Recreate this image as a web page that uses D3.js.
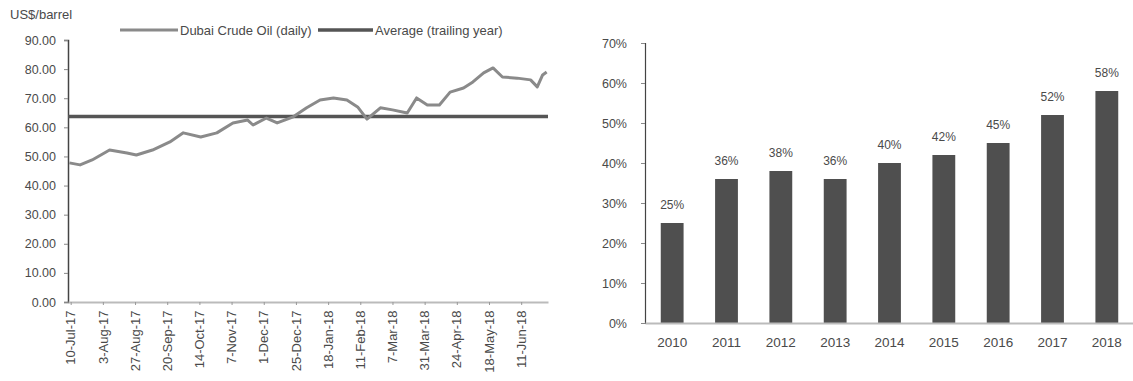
<!DOCTYPE html>
<html><head><meta charset="utf-8">
<script src="https://cdn.jsdelivr.net/npm/d3@7"></script>
<style>
html,body{margin:0;padding:0;background:#fff;}
svg{display:block;font-family:"Liberation Sans",Arial,sans-serif;}
</style></head><body>
<svg id="c" width="1133" height="381"></svg>
<script>
// ---- Left chart data ----
const priceDates = ["2017-07-09","2017-07-17","2017-07-26","2017-08-08","2017-08-21","2017-08-28","2017-09-09","2017-09-22","2017-10-02","2017-10-15","2017-10-27","2017-11-08","2017-11-19","2017-11-23","2017-12-03","2017-12-11","2017-12-23","2018-01-02","2018-01-12","2018-01-22","2018-02-01","2018-02-09","2018-02-16","2018-02-26","2018-03-07","2018-03-18","2018-03-25","2018-04-02","2018-04-11","2018-04-19","2018-04-29","2018-05-06","2018-05-14","2018-05-21","2018-05-28","2018-06-08","2018-06-18","2018-06-23","2018-06-27","2018-06-30"];
const priceValues = [47.8,47.1,48.8,52.2,51.2,50.5,52.2,55.0,58.1,56.7,58.1,61.5,62.5,60.8,63.2,61.5,63.6,66.7,69.4,70.1,69.4,67.0,62.8,66.7,66.0,64.9,70.1,67.7,67.7,72.1,73.5,75.6,78.7,80.4,77.3,76.9,76.3,73.9,78.0,79.0];
const averageValue = 63.7;
const xTickDates = ["2017-07-10","2017-08-03","2017-08-27","2017-09-20","2017-10-14","2017-11-07","2017-12-01","2017-12-25","2018-01-18","2018-02-11","2018-03-07","2018-03-31","2018-04-24","2018-05-18","2018-06-11"];
const yTicksLeft = [0,10,20,30,40,50,60,70,80,90];
const leftUnit = "US$/barrel";
const legendNames = ["Dubai Crude Oil (daily)","Average (trailing year)"];

// ---- Right chart data ----
const years = ["2010","2011","2012","2013","2014","2015","2016","2017","2018"];
const shares = [25,36,38,36,40,42,45,52,58];
const yTicksRight = [0,10,20,30,40,50,60,70];

const svg = d3.select("#c");
const parse = d3.timeParse("%Y-%m-%d");
const fmtDate = d3.timeFormat("%-d-%b-%y");
const TXT = "#4a4a4a";

// ===== Left chart =====
const L = {x0:68, x1:548, y0:302, y1:40};
const x = d3.scaleTime().domain([parse("2017-07-08"), parse("2018-07-01")]).range([L.x0, L.x1]);
const y = d3.scaleLinear().domain([0,90]).range([L.y0, L.y1]);

const gy = svg.append("g").attr("transform",`translate(${L.x0},0)`)
  .call(d3.axisLeft(y).tickValues(yTicksLeft).tickFormat(d3.format(".2f")).tickSize(4).tickPadding(8));
gy.select(".domain").attr("stroke","#444").attr("stroke-width",1.5);
gy.selectAll(".tick line").attr("stroke","#888");
gy.selectAll("text").attr("fill",TXT).style("font-size","12.5px");

const gx = svg.append("g").attr("transform",`translate(0,${L.y0})`)
  .call(d3.axisBottom(x).tickValues(xTickDates.map(parse)).tickFormat(fmtDate).tickSize(3).tickSizeOuter(0));
gx.select(".domain").attr("stroke","#bbb").attr("stroke-width",2);
gx.selectAll(".tick line").attr("stroke","#999");
gx.selectAll("text").attr("fill",TXT).style("font-size","13px")
  .attr("transform","rotate(-90)").attr("text-anchor","end").attr("dx","-0.5em").attr("dy","0.32em").attr("y",0).attr("x",-2);

svg.append("text").attr("x",10).attr("y",19).attr("fill",TXT).style("font-size","13px").text(leftUnit);

svg.append("line").attr("x1",L.x0).attr("x2",L.x1).attr("y1",y(averageValue)).attr("y2",y(averageValue))
  .attr("stroke","#555").attr("stroke-width",3.5);

const pts = priceDates.map((d,i)=>({d:parse(d), v:priceValues[i]}));
svg.append("path").datum(pts).attr("fill","none").attr("stroke","#8a8a8a").attr("stroke-width",3)
  .attr("stroke-linejoin","round")
  .attr("d", d3.line().x(p=>x(p.d)).y(p=>y(p.v)));

const lg = svg.append("g").style("font-size","13px");
lg.append("line").attr("x1",120).attr("x2",178).attr("y1",30).attr("y2",30).attr("stroke","#8a8a8a").attr("stroke-width",3);
lg.append("text").attr("x",180).attr("y",34.5).attr("fill",TXT).text(legendNames[0]);
lg.append("line").attr("x1",318).attr("x2",373).attr("y1",30).attr("y2",30).attr("stroke","#555").attr("stroke-width",3.5);
lg.append("text").attr("x",375).attr("y",34.5).attr("fill",TXT).text(legendNames[1]);

// ===== Right chart =====
const R = {x0:645, x1:1134, y0:323, y1:43};
const xb = d3.scaleBand().domain(years).range([R.x0, R.x1]).paddingInner(0.58).paddingOuter(0.29);
const yb = d3.scaleLinear().domain([0,70]).range([R.y0, R.y1]);

const gyr = svg.append("g").attr("transform",`translate(${R.x0},0)`)
  .call(d3.axisLeft(yb).tickValues(yTicksRight).tickFormat(d=>d+"%").tickSize(4).tickPadding(14));
gyr.select(".domain").attr("stroke","#444").attr("stroke-width",1.2);
gyr.selectAll(".tick line").attr("stroke","#888");
gyr.selectAll("text").attr("fill",TXT).style("font-size","12.5px");

svg.selectAll("rect.bar").data(years).join("rect").attr("class","bar")
  .attr("x",d=>xb(d)).attr("width",xb.bandwidth())
  .attr("y",(d,i)=>yb(shares[i])).attr("height",(d,i)=>yb(0)-yb(shares[i]))
  .attr("fill","#4f4f4f");

svg.selectAll("text.val").data(years).join("text").attr("class","val")
  .attr("x",d=>xb(d)+xb.bandwidth()/2).attr("y",(d,i)=>yb(shares[i])-14)
  .attr("text-anchor","middle").attr("fill",TXT).style("font-size","12px")
  .text((d,i)=>shares[i]+"%");

const gxr = svg.append("g").attr("transform",`translate(0,${R.y0})`)
  .call(d3.axisBottom(xb).tickSize(0).tickPadding(14));
gxr.select(".domain").attr("stroke","#bbb").attr("stroke-width",2);
gxr.selectAll("text").attr("fill",TXT).style("font-size","13.5px");
</script>
</body></html>
